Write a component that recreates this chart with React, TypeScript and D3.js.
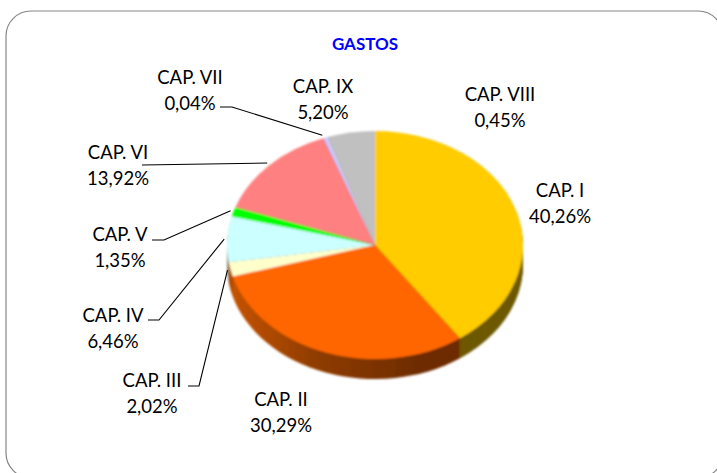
import React from "react";
import * as d3 from "d3";

const categories = ["CAP. I", "CAP. II", "CAP. III", "CAP. IV", "CAP. V", "CAP. VI", "CAP. VII", "CAP. VIII", "CAP. IX"];
const values = [40.26, 30.29, 2.02, 6.46, 1.35, 13.92, 0.04, 0.45, 5.2];
const colors = ["#ffcc00", "#ff6600", "#ffffcc", "#ccffff", "#00ff00", "#ff8080", "#ff66cc", "#ccccff", "#c0c0c0"];
const wallColors = ["#6e5a00", "url(#wallOrange)", "#b04c00", "#8a8a70", "#8a8a70", "#8a4040", "#8a4040", "#8a8a90", "#808080"];

// label centre x, first line baseline, then the leader line (slice end is computed)
const labelLayout = [
  { x: 560, y: 197, line: null },
  { x: 281, y: 406, line: null },
  { x: 152, y: 387, line: [[188, 386], [199, 386]] },
  { x: 113, y: 322, line: [[148, 320], [159, 320]] },
  { x: 120, y: 241, line: [[152, 240], [164, 240]] },
  { x: 118, y: 159, line: [[142, 165]] },
  { x: 190, y: 84, line: [[220, 107], [232, 107]] },
  { x: 500, y: 101, line: null },
  { x: 323, y: 93, line: null },
];

const W = 717;
const H = 473;
const cx = 375;
const cy = 245;
const rx = 148;
const ry = 114;
const depth = 20;

export default function App() {
  const arcs = d3.pie<number>().sort(null)(values);
  const arc = d3.arc<d3.PieArcDatum<number>>().innerRadius(0).outerRadius(rx);
  const depths = d3.range(depth, 0, -1);
  const fmt = (v: number) => v.toFixed(2).replace(".", ",") + "%";

  // where a leader line touches the pie rim
  const rim = (d: d3.PieArcDatum<number>) => {
    const a = (d.startAngle + d.endAngle) / 2;
    return [cx + (rx + 3) * Math.sin(a), cy - (ry + 3) * Math.cos(a)];
  };

  return (
    <svg width={W} height={H} style={{ position: "absolute", left: 0, top: 0 }} fontFamily="Lato, Carlito, sans-serif">
      <defs>
        <filter id="soft" x="-5%" y="-5%" width="110%" height="110%">
          <feGaussianBlur stdDeviation="0.9" />
        </filter>
        <linearGradient id="wallOrange" gradientUnits="userSpaceOnUse" x1={-rx} y1={0} x2={rx} y2={0}>
          <stop offset="0" stopColor="#c85400" />
          <stop offset="0.3" stopColor="#8f3c00" />
          <stop offset="0.65" stopColor="#6e2c00" />
          <stop offset="1" stopColor="#6e2c00" />
        </linearGradient>
      </defs>
      <rect x={6} y={11} width={717} height={467} rx={25} ry={25} fill="#fff" stroke="#868686" strokeWidth={1.2} />
      <text x={365} y={50} textAnchor="middle" fontSize={17} fontWeight="bold" fill="#0000ff">GASTOS</text>

      <g filter="url(#soft)">
        {depths.map((dz) => (
          <g key={dz} transform={`translate(${cx},${cy + dz}) scale(1,${ry / rx})`}>
            {arcs.map((d, i) => (
              <path key={i} d={arc(d) ?? ""} fill={wallColors[i]} />
            ))}
          </g>
        ))}
        <g transform={`translate(${cx},${cy}) scale(1,${ry / rx})`}>
          {arcs.map((d, i) => (
            <path key={i} d={arc(d) ?? ""} fill={colors[i]} />
          ))}
        </g>
      </g>

      {labelLayout.map((l, i) =>
        l.line ? (
          <polyline
            key={i}
            points={[...l.line, rim(arcs[i])].map((p) => p.join(",")).join(" ")}
            fill="none"
            stroke="#000"
            strokeWidth={1.1}
          />
        ) : null
      )}

      {labelLayout.map((l, i) => (
        <text key={i} textAnchor="middle" fontSize={18.5} fill="#000">
          <tspan x={l.x} y={l.y}>{categories[i]}</tspan>
          <tspan x={l.x} y={l.y + 26}>{fmt(values[i])}</tspan>
        </text>
      ))}
    </svg>
  );
}
